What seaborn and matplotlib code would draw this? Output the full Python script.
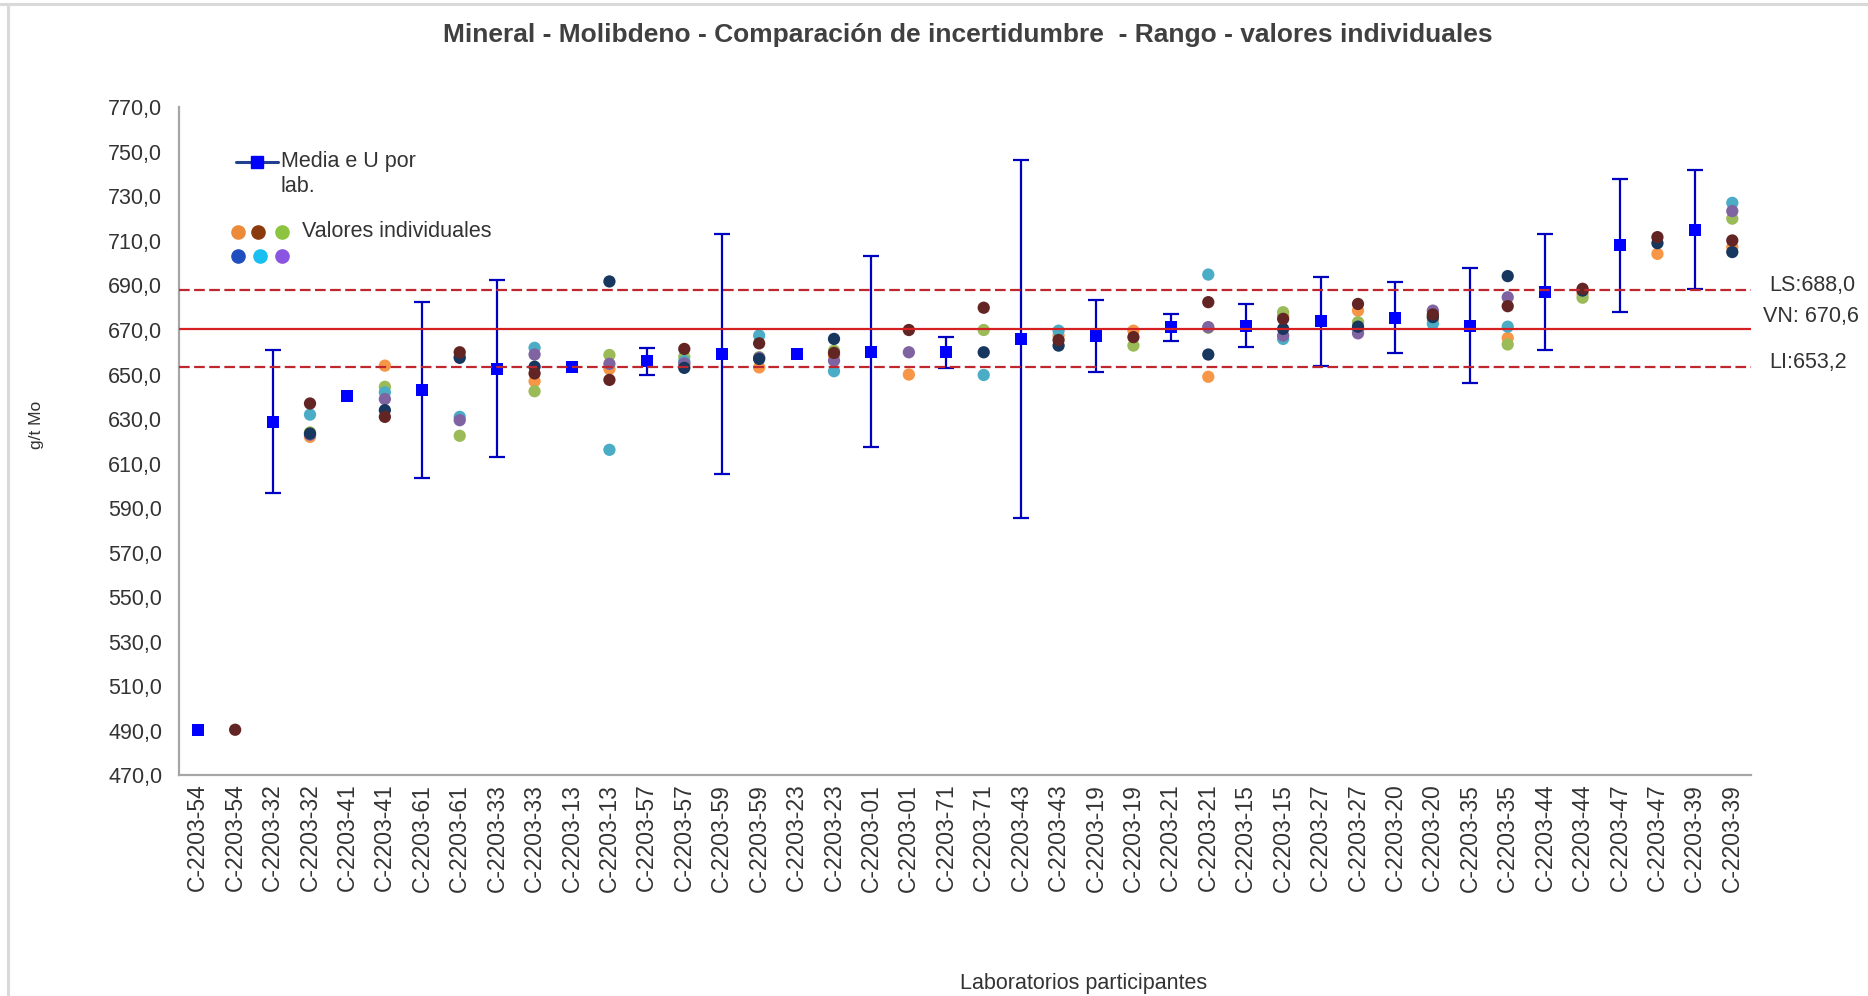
import numpy as np
import pandas as pd
import matplotlib
matplotlib.use("Agg")
import matplotlib.pyplot as plt
from matplotlib.lines import Line2D
import seaborn as sns

# Laboratorios (ordenados por media)
labs = ["C-2203-54", "C-2203-32", "C-2203-41", "C-2203-61", "C-2203-33",
        "C-2203-13", "C-2203-57", "C-2203-59", "C-2203-23", "C-2203-01",
        "C-2203-71", "C-2203-43", "C-2203-19", "C-2203-21", "C-2203-15",
        "C-2203-27", "C-2203-20", "C-2203-35", "C-2203-44", "C-2203-47",
        "C-2203-39"]

# Media por laboratorio y su incertidumbre expandida U
media = [490.6, 628.8, 640.5, 643.0, 652.6, 653.6, 655.9, 659.3, 659.3, 660.3,
         660.0, 666.0, 667.3, 671.2, 672.0, 674.0, 675.5, 672.0, 687.0, 708.0,
         715.0]
u_exp = [np.nan, 32.0, np.nan, 39.5, 39.8, np.nan, 6.0, 54.0, np.nan, 43.0,
         7.0, 80.5, 16.0, 6.0, 9.5, 20.0, 16.0, 26.0, 26.0, 30.0, 26.7]

nan = np.nan
# Valores individuales (una lista por réplica)
val_naranja = [nan, 622.0, 654.0, 658.0, 647.0, 652.5, 654.5, 653.2, 658.5, 650.0,
               nan, 667.5, 669.7, 649.0, 676.5, 678.7, 674.6, 666.4, 686.2, 704.2,
               707.2]
val_verde = [nan, 624.0, 644.5, 622.5, 642.5, 658.8, 658.0, 657.8, 660.7, nan,
             670.0, nan, 663.0, 671.0, 678.0, 673.5, 676.0, 663.5, 684.5, nan,
             720.0]
val_turquesa = [nan, 632.0, 642.0, 631.0, 662.0, 616.2, 656.0, 667.5, 651.5, nan,
                649.8, 669.7, nan, 694.9, 666.0, 669.7, 672.8, 671.5, nan, nan,
                727.1]
val_morado = [nan, 623.0, 639.0, 629.5, 659.0, 654.8, 655.0, 657.5, 656.2, 660.0,
              nan, nan, nan, 671.3, 667.5, 668.5, 678.7, 684.7, nan, nan,
              723.4]
val_azul = [nan, 623.5, 634.0, 657.5, 653.5, 691.8, 653.0, 657.0, 666.0, nan,
            660.0, 663.0, nan, 659.0, 670.5, 671.5, 675.8, 694.2, 687.7, 709.0,
            705.0]
val_granate = [490.5, 637.0, 631.0, 660.0, 650.5, 647.6, 661.5, 664.0, 659.7, 670.0,
               680.0, 665.5, 666.8, 682.5, 675.0, 681.7, 677.0, 680.7, 688.5, 711.7,
               710.2]

# Valores de referencia
ls_val = 688.0
vn_val = 670.6
li_val = 653.2

series = {
    "naranja": (val_naranja, "#F79646"),
    "verde": (val_verde, "#9BBB59"),
    "turquesa": (val_turquesa, "#4BACC6"),
    "morado": (val_morado, "#8064A2"),
    "azul": (val_azul, "#17375E"),
    "granate": (val_granate, "#632523"),
}
legend_cols = ["#ED8A3A", "#8B3A0E", "#8CC43F", "#1F4FBF", "#18BFF0", "#8A55E0"]

n = len(labs)
pos_media = np.arange(n) * 2
pos_ind = np.arange(n) * 2 + 1
tick_labels = [lab for lab in labs for _ in range(2)]

rows = []
for name, (vals, _) in series.items():
    for p, v in zip(pos_ind, vals):
        if not np.isnan(v):
            rows.append({"pos": p, "valor": v, "serie": name})
df_ind = pd.DataFrame(rows)
df_media = pd.DataFrame({"pos": pos_media, "media": media, "u": u_exp})

sns.set_style("white")
plt.rcParams["font.family"] = ["Liberation Sans", "DejaVu Sans"]
TXT = "#333333"

W, H = 1868, 996
fig = plt.figure(figsize=(W / 100, H / 100), dpi=100)
x0, x1, y0, y1 = 179, 1751, 107.3, 775.4
ax = fig.add_axes([x0 / W, 1 - y1 / H, (x1 - x0) / W, (y1 - y0) / H])

# Réplicas individuales
sns.scatterplot(data=df_ind, x="pos", y="valor", hue="serie",
                palette={k: c for k, (_, c) in series.items()},
                s=78, linewidth=0, legend=False, ax=ax, zorder=3)

# Media e incertidumbre
ax.errorbar(df_media["pos"], df_media["media"], yerr=df_media["u"], fmt="none",
            ecolor="#0000C0", elinewidth=1.6, capsize=5.5, capthick=1.6, zorder=4)
sns.scatterplot(data=df_media, x="pos", y="media", marker="s", color="#0000FF",
                s=82, linewidth=0, legend=False, ax=ax, zorder=5)

# Líneas de referencia
ax.axhline(ls_val, color="#C0262D", lw=1.6, ls=(0, (4.8, 2.0)), zorder=6)
ax.axhline(vn_val, color="#D42020", lw=1.6, zorder=6)
ax.axhline(li_val, color="#C0262D", lw=1.6, ls=(0, (4.8, 2.0)), zorder=6)

tr = ax.get_yaxis_transform()
fmt = lambda v: f"{v:.1f}".replace(".", ",")
kw = dict(fontsize=15.5, color=TXT, va="center", ha="left", xycoords=tr,
          textcoords="offset points", annotation_clip=False)
ax.annotate(f"LS:{fmt(ls_val)}", xy=(1.0115, ls_val), xytext=(0, 3), **kw)
ax.annotate(f"VN: {fmt(vn_val)}", xy=(1.0076, vn_val), xytext=(0, 9), **kw)
ax.annotate(f"LI:{fmt(li_val)}", xy=(1.0115, li_val), xytext=(0, 3.5), **kw)

# Ejes
ax.set_xlim(-0.5, 2 * n - 0.5)
ax.set_ylim(470, 770)
yt = np.arange(470, 771, 20)
ax.set_yticks(yt)
ax.set_yticklabels([fmt(v) for v in yt])
ax.set_xticks(np.arange(2 * n))
ax.set_xticklabels(tick_labels, rotation=90)
ax.tick_params(axis="y", length=6, width=1.2, color="#A6A6A6", direction="out",
               labelsize=15.5, labelcolor=TXT, pad=6)
ax.tick_params(axis="x", length=0, labelsize=16.5, labelcolor=TXT, pad=6)
for side in ("top", "right"):
    ax.spines[side].set_visible(False)
for side in ("left", "bottom"):
    ax.spines[side].set_color("#A6A6A6")
    ax.spines[side].set_linewidth(1.6)

ax.set_ylabel("g/t Mo", fontsize=12.5, color=TXT)
ax.yaxis.set_label_coords((44 - x0) / (x1 - x0), 0.525)
ax.set_xlabel("Laboratorios participantes", fontsize=15.5, color=TXT)
ax.xaxis.set_label_coords((1084 - x0) / (x1 - x0), (y1 - 983) / (y1 - y0))
ax.xaxis.label.set_va("center")
ax.xaxis.label.set_ha("center")

fig.text(968 / W, 1 - 35 / H,
         "Mineral - Molibdeno - Comparación de incertidumbre  - Rango - valores individuales",
         fontsize=19, fontweight="bold", color="#404040", ha="center", va="center")

# Leyenda
fx = lambda px: px / W
fy = lambda py: 1 - py / H
fig.add_artist(Line2D([fx(236), fx(278)], [fy(161.7), fy(161.7)], color="#22408F", lw=2.2))
fig.add_artist(Line2D([fx(256.7)], [fy(161.7)], marker="s", color="#0000FF",
                      markersize=9, linestyle="none"))
fig.text(fx(281), fy(161.7), "Media e U por", fontsize=15.5, color=TXT, va="center")
fig.text(fx(281), fy(186.7), "lab.", fontsize=15.5, color=TXT, va="center")
dot_xy = [(238.3, 231.7), (258.3, 231.7), (281.7, 231.7),
          (238.3, 255.5), (260.0, 255.5), (281.7, 255.5)]
for (px, py), c in zip(dot_xy, legend_cols):
    fig.add_artist(Line2D([fx(px)], [fy(py)], marker="o", color=c,
                          markersize=9.5, linestyle="none"))
fig.text(fx(302), fy(231.7), "Valores individuales", fontsize=15.5, color=TXT, va="center")

# Marco del gráfico
fig.add_artist(Line2D([0, 1], [fy(4), fy(4)], color="#D9D9D9", lw=2.2))
fig.add_artist(Line2D([fx(8), fx(8)], [fy(4), 0], color="#D9D9D9", lw=2.2))

fig.savefig("out.png", dpi=100)
